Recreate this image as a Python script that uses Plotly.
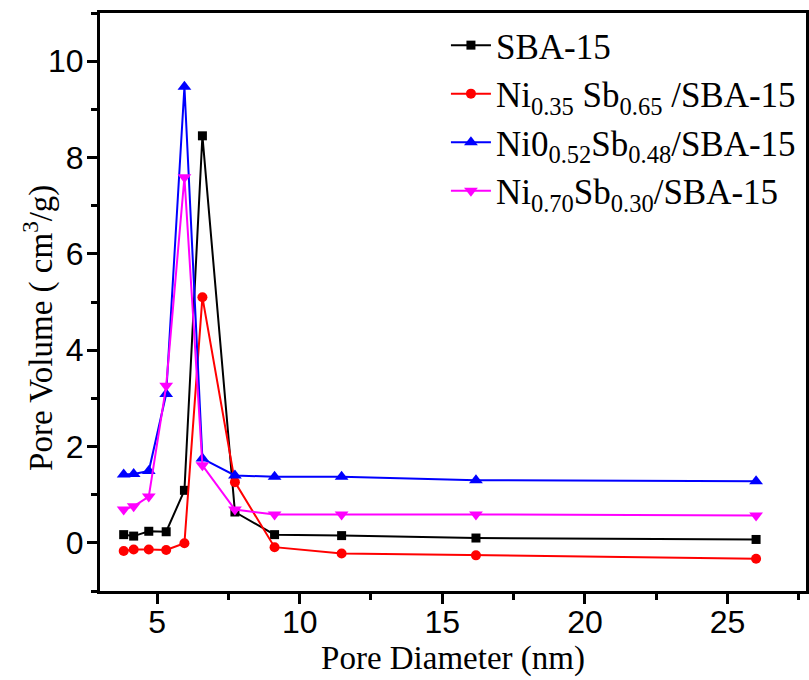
import plotly.graph_objects as go

# Data
pore_diameter = [3.83, 4.18, 4.71, 5.32, 5.96, 6.59, 7.73, 9.12, 11.47, 16.18, 26.0]
sba15 = [0.17, 0.14, 0.24, 0.23, 1.09, 8.45, 0.64, 0.17, 0.15, 0.10, 0.07]
ni035 = [-0.17, -0.14, -0.14, -0.15, -0.01, 5.10, 1.26, -0.09, -0.22, -0.26, -0.33]
ni052 = [1.42, 1.43, 1.49, 3.09, 9.47, 1.75, 1.40, 1.37, 1.37, 1.30, 1.28]
ni070 = [0.69, 0.76, 0.96, 3.26, 7.59, 1.61, 0.69, 0.59, 0.59, 0.59, 0.57]

names = [
    "SBA-15",
    "Ni<sub>0.35</sub> Sb<sub>0.65</sub> /SBA-15",
    "Ni0<sub>0.52</sub>Sb<sub>0.48</sub>/SBA-15",
    "Ni<sub>0.70</sub>Sb<sub>0.30</sub>/SBA-15",
]
series = [sba15, ni035, ni052, ni070]
colors = ["#000000", "#FF0000", "#0000FF", "#FF00FF"]
symbols = ["square", "circle", "triangle-up", "triangle-down"]
sizes = [9, 10, 12, 12]

SERIF = "Liberation Serif"
SANS = "Liberation Sans"

fig = go.Figure()
for name, ys, c, s, sz in zip(names, series, colors, symbols, sizes):
    fig.add_trace(go.Scatter(
        x=pore_diameter, y=ys, name=name, mode="lines+markers",
        line=dict(color=c, width=2),
        marker=dict(symbol=s, size=sz, color=c),
    ))

axis_common = dict(
    showgrid=False, zeroline=False, showline=True, linecolor="black",
    linewidth=3, ticks="outside", ticklen=10, tickwidth=3, tickcolor="black",
    tickfont=dict(family=SANS, size=32, color="black"),
    mirror=True,
)

fig.update_xaxes(
    **axis_common, range=[3, 27.75], dtick=5, tick0=0,
    minor=dict(ticks="outside", ticklen=6, tickwidth=3, tickcolor="black", dtick=2.5, tick0=0),
    title=dict(text="Pore Diameter (nm)", font=dict(family=SERIF, size=33, color="black"), standoff=0),
    ticklabelstandoff=-9,
)
fig.update_yaxes(
    **axis_common, range=[-1, 11], dtick=2, tick0=0,
    minor=dict(ticks="outside", ticklen=6, tickwidth=3, tickcolor="black", dtick=1, tick0=0),
    ticklabelstandoff=-3,
)

fig.add_annotation(
    text="Pore Volume ( cm<sup>3</sup>/g)", textangle=-90,
    xref="paper", yref="paper", x=-0.088, y=0.455,
    xanchor="center", yanchor="middle", showarrow=False,
    font=dict(family=SERIF, size=33, color="black"),
)

fig.update_layout(
    width=809, height=680,
    margin=dict(l=100, r=0, t=13, b=89),
    plot_bgcolor="white", paper_bgcolor="white",
    showlegend=True,
    legend=dict(
        x=0.49, y=0.995, xanchor="left", yanchor="top",
        bgcolor="rgba(0,0,0,0)",
        font=dict(family=SERIF, size=35, color="black"),
        itemwidth=40, tracegroupgap=0,
    ),
)

fig.write_html("out.html")
